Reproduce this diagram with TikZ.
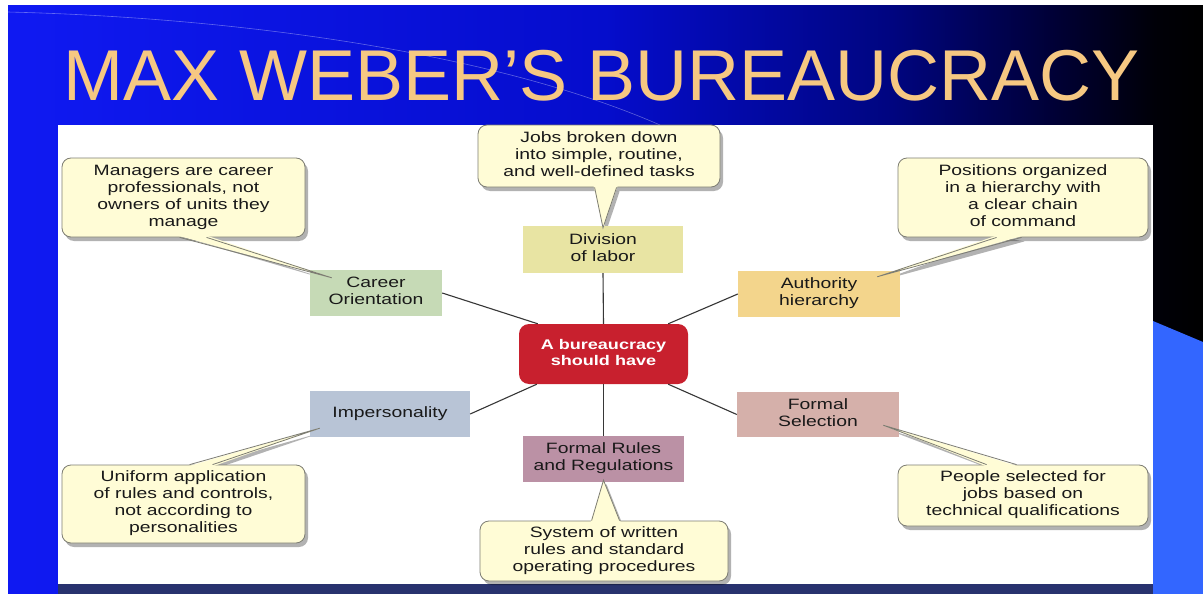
\documentclass[tikz,border=0pt]{standalone}
\usepackage{fontspec}
\setmainfont{Liberation Sans}
\usepackage{graphicx}
\usetikzlibrary{calc,shadows}

\definecolor{cream}{RGB}{255,252,214}
\definecolor{bordergray}{RGB}{125,125,115}
\definecolor{textdark}{RGB}{25,25,25}
\definecolor{sage}{RGB}{198,218,182}
\definecolor{khaki}{RGB}{232,228,163}
\definecolor{gold}{RGB}{243,213,140}
\definecolor{redc}{RGB}{200,32,46}
\definecolor{bluegray}{RGB}{184,196,214}
\definecolor{dustypink}{RGB}{213,176,170}
\definecolor{mauve}{RGB}{187,145,165}
\definecolor{titlecol}{RGB}{246,200,130}
\definecolor{lightblue}{RGB}{51,102,255}
\definecolor{navystrip}{RGB}{40,50,110}
\definecolor{connc}{RGB}{55,55,55}

\pgfdeclarehorizontalshading{slidebg}{100bp}{rgb(0bp)=(0.06,0.1,0.95); rgb(25bp)=(0.06,0.1,0.95); rgb(50bp)=(0.02,0.05,0.8); rgb(62bp)=(0,0.02,0.5); rgb(69bp)=(0,0,0.2); rgb(73bp)=(0,0,0.03); rgb(75bp)=(0,0,0); rgb(100bp)=(0,0,0)}

\pgfdeclarelayer{back}
\pgfdeclarelayer{shad}
\pgfsetlayers{back,shad,main}

\newcommand\tx[1]{\scalebox{1.29}[1]{\begin{tabular}{@{}c@{}}#1\end{tabular}}}

\tikzset{
  note/.style={draw=bordergray, line width=0.8pt, fill=cream, rounded corners=9pt,
    inner sep=0pt, font=\fontsize{15}{17}\selectfont, text=textdark,
    drop shadow={shadow xshift=3pt, shadow yshift=-4pt, opacity=0.3, fill=black}},
  topic/.style={inner sep=0pt, font=\fontsize{15}{17}\selectfont, text=textdark},
  conn/.style={draw=connc, line width=1.1pt},
  tailfill/.style={fill=cream},
  tailline/.style={draw=bordergray, line width=0.8pt, line join=miter},
  tailshadow/.style={fill=black, opacity=0.3}
}

\begin{document}
\begin{tikzpicture}[x=1pt, y=-1pt]
\useasboundingbox (0,0) rectangle (1203,594);

\begin{pgfonlayer}{back}
  \fill[white] (0,0) rectangle (1203,594);
  \shade[shading=slidebg] (8,6) rectangle (1203,594);
  \fill[lightblue] (1153,321) -- (1203,342) -- (1203,594) -- (1153,594) -- cycle;
  \draw[white, opacity=0.35, line width=0.6pt] (8,12) .. controls (250,18) and (500,55) .. (660,125);
  \fill[white] (58,125) rectangle (1153,584);
  \fill[navystrip] (58,584) rectangle (1153,594);
\end{pgfonlayer}

% title
\node[font=\fontsize{72}{72}\selectfont, text=titlecol, anchor=base, inner sep=0pt] (title) at (602,100) {MAX WEBER’S BUREAUCRACY};

% topic boxes
\node[topic, fill=sage, minimum width=132pt, minimum height=46pt] (career) at (376,293) {\tx{Career\\Orientation}};
\node[topic, fill=khaki, minimum width=160pt, minimum height=47pt] (division) at (603,249.5) {\tx{Division\\of labor}};
\node[topic, fill=gold, minimum width=162pt, minimum height=46pt] (authority) at (819,294) {\tx{Authority\\hierarchy}};
\node[topic, fill=bluegray, minimum width=160pt, minimum height=46pt] (imperson) at (390,414) {\tx{Impersonality}};
\node[topic, fill=dustypink, minimum width=162pt, minimum height=45pt] (selection) at (818,414.5) {\tx{Formal\\Selection}};
\node[topic, fill=mauve, minimum width=161pt, minimum height=46pt] (rules) at (603.5,459) {\tx{Formal Rules\\and Regulations}};
\node[inner sep=0pt, fill=redc, rounded corners=10pt, minimum width=169pt, minimum height=60pt,
      text=white, font=\bfseries\fontsize{14}{16}\selectfont] (ctr) at (603.5,354) {\tx{A bureaucracy\\should have}};

% connectors
\draw[conn] (career.east) -- ($(ctr.north west)+(19,0)$);
\draw[conn] (division.south) -- (ctr.north);
\draw[conn] (authority.west) -- ($(ctr.north east)+(-20,0)$);
\draw[conn] (imperson.east) -- ($(ctr.south west)+(18,0)$);
\draw[conn] (selection.west) -- ($(ctr.south east)+(-20,0)$);
\draw[conn] (ctr.south) -- (rules.north);

% callouts
\node[note, minimum width=243pt, minimum height=79pt] (mgr) at (183.5,197.5) {\tx{Managers are career\\professionals, not\\owners of units they\\manage}};
\node[note, minimum width=242pt, minimum height=62pt] (jobs) at (599,156) {\tx{Jobs broken down\\into simple, routine,\\and well-defined tasks}};
\node[note, minimum width=250pt, minimum height=79pt] (pos) at (1023,197.5) {\tx{Positions organized\\in a hierarchy with\\a clear chain\\of command}};
\node[note, minimum width=243pt, minimum height=78pt] (uni) at (183.5,504) {\tx{Uniform application\\of rules and controls,\\not according to\\personalities}};
\node[note, minimum width=250pt, minimum height=61pt] (peo) at (1023,495.5) {\tx{People selected for\\jobs based on\\technical qualifications}};
\node[note, minimum width=248pt, minimum height=60pt] (sys) at (604,551) {\tx{System of written\\rules and standard\\operating procedures}};

% tip points of the callout tails
\coordinate (tipA) at ($(career.north west)+(22,8)$);
\coordinate (tipB) at ($(division.north)+(0,2)$);
\coordinate (tipC) at ($(authority.north east)+(-23,6)$);
\coordinate (tipD) at ($(imperson.south west)+(10,-9)$);
\coordinate (tipE) at ($(selection.south east)+(-16,-12)$);
\coordinate (tipF) at ($(rules.south)+(0,-2)$);

% tail shadows
\begin{pgfonlayer}{shad}
  \fill[tailshadow] ($(mgr.south west)+(121,0)$) -- ($(tipA)+(3,4)$) -- ($(mgr.south west)+(148,4)$) -- cycle;
  \fill[tailshadow] ($(jobs.south west)+(120,0)$) -- ($(tipB)+(3,4)$) -- ($(jobs.south west)+(142,4)$) -- cycle;
  \fill[tailshadow] ($(pos.south west)+(102,0)$) -- ($(tipC)+(3,4)$) -- ($(pos.south west)+(127,4)$) -- cycle;
  \fill[tailshadow] ($(uni.north west)+(131,4)$) -- ($(tipD)+(3,4)$) -- ($(uni.north west)+(154,4)$) -- cycle;
  \fill[tailshadow] ($(peo.north west)+(92,4)$) -- ($(tipE)+(3,4)$) -- ($(peo.north west)+(122,4)$) -- cycle;
  \fill[tailshadow] ($(sys.north west)+(115,4)$) -- ($(tipF)+(3,4)$) -- ($(sys.north west)+(143,4)$) -- cycle;
\end{pgfonlayer}

% tails
\fill[tailfill] ($(mgr.south west)+(117,-1.5)$) -- (tipA) -- ($(mgr.south west)+(146,-1.5)$) -- cycle;
\draw[tailline] ($(mgr.south west)+(118,0)$) -- (tipA) -- ($(mgr.south west)+(145,0)$);

\fill[tailfill] ($(jobs.south west)+(116,-1.5)$) -- (tipB) -- ($(jobs.south west)+(140,-1.5)$) -- cycle;
\draw[tailline] ($(jobs.south west)+(117,0)$) -- (tipB) -- ($(jobs.south west)+(139,0)$);

\fill[tailfill] ($(pos.south west)+(98,-1.5)$) -- (tipC) -- ($(pos.south west)+(125,-1.5)$) -- cycle;
\draw[tailline] ($(pos.south west)+(99,0)$) -- (tipC) -- ($(pos.south west)+(124,0)$);

\fill[tailfill] ($(uni.north west)+(127,1.5)$) -- (tipD) -- ($(uni.north west)+(152,1.5)$) -- cycle;
\draw[tailline] ($(uni.north west)+(128,0)$) -- (tipD) -- ($(uni.north west)+(151,0)$);

\fill[tailfill] ($(peo.north west)+(88,1.5)$) -- (tipE) -- ($(peo.north west)+(120,1.5)$) -- cycle;
\draw[tailline] ($(peo.north west)+(89,0)$) -- (tipE) -- ($(peo.north west)+(119,0)$);

\fill[tailfill] ($(sys.north west)+(111,1.5)$) -- (tipF) -- ($(sys.north west)+(141,1.5)$) -- cycle;
\draw[tailline] ($(sys.north west)+(112,0)$) -- (tipF) -- ($(sys.north west)+(140,0)$);

\end{tikzpicture}
\end{document}
